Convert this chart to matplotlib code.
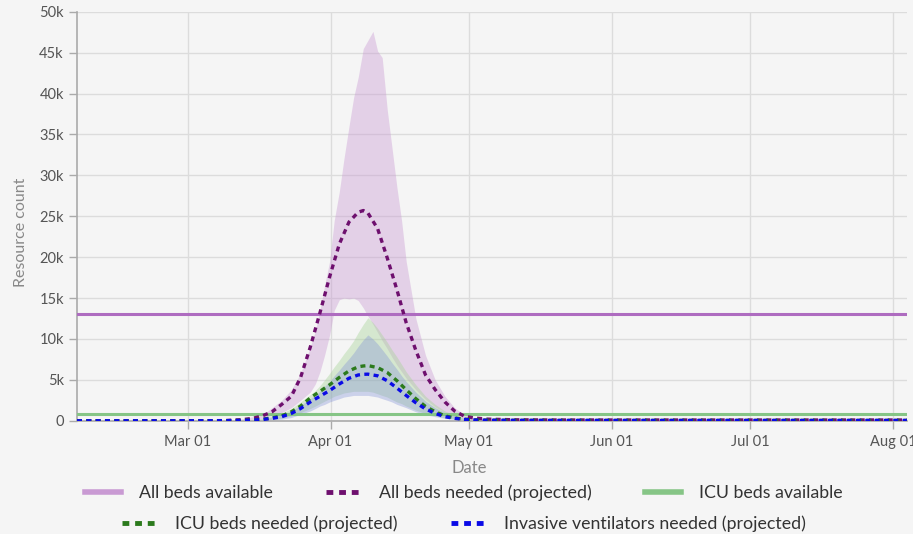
import pandas as pd
import matplotlib.pyplot as plt
import matplotlib.dates as mdates
from matplotlib.lines import Line2D
from matplotlib.ticker import FuncFormatter, MultipleLocator

plt.rcParams['font.family'] = ['Lato', 'DejaVu Sans']

# days relative to Apr 01 2020
curve_days = [-55, -32.5, -23.1, -19, -16.9, -14.8, -12.7, -10.6, -8.5, -6.5, -4.4, -2.3, -0.2, 1.9,
              4, 6, 7.1, 8.1, 10.2, 12.3, 14.4, 16.4, 18.5, 20.6, 22.7, 24.8, 26.9, 28.9, 31, 34.1,
              40, 50, 61, 91, 125]
all_beds_needed = [0, 0, 20, 150, 300, 600, 1100, 2000, 3000, 5300, 9000, 13200, 17600, 21600, 24300,
                   25500, 25700, 25400, 23500, 19900, 16000, 12000, 8600, 5600, 3800, 2300, 1200, 600,
                   350, 200, 120, 100, 100, 100, 100]
icu_needed = [0, 0, 10, 50, 100, 200, 350, 600, 1100, 1800, 2800, 3600, 4400, 5300, 6100, 6600, 6700,
              6750, 6500, 5900, 4900, 3800, 2700, 1750, 1100, 600, 350, 200, 120, 80, 60, 50, 50, 50, 50]
vent_needed = [0, 0, 10, 40, 80, 150, 300, 500, 900, 1500, 2300, 3000, 3700, 4500, 5200, 5600, 5680,
               5700, 5500, 4900, 4000, 3100, 2200, 1450, 900, 500, 300, 170, 100, 60, 50, 40, 40, 40, 40]

band_days = [-55, -21, -14.8, -10.6, -8.5, -6.5, -4.4, -3.3, -2.3, -1.3, -0.2, 0.8, 1.9, 2.9, 4, 5, 6,
             7.1, 8.1, 9.2, 10.2, 11.2, 12.3, 13.3, 14.4, 15.4, 16.4, 18.5, 20.6, 22.7, 24.8, 26.9,
             28.9, 31, 36.2, 125]
all_beds_upper = [0, 50, 700, 2500, 3800, 5800, 9000, 11000, 13500, 16500, 19500, 24500, 28000, 32000,
                  36000, 39500, 42000, 45500, 46500, 47600, 45200, 44400, 38000, 33500, 28500, 24500,
                  19500, 12500, 8000, 5000, 3000, 1600, 800, 400, 150, 100]
all_beds_lower = [0, 20, 300, 1000, 1600, 2500, 3500, 4500, 6000, 8000, 10500, 13500, 14800, 15000,
                  14900, 15000, 14700, 13800, 12800, 11800, 10800, 9800, 8800, 7800, 6800, 6000, 5200,
                  3800, 2600, 1700, 1000, 500, 300, 150, 80, 50]
icu_upper = [0, 30, 300, 900, 1500, 2300, 3200, 3700, 4300, 5000, 5800, 6600, 7400, 8200, 9000, 9800,
             10800, 11800, 12600, 12000, 11300, 10500, 9600, 8700, 7800, 6900, 6000, 4400, 3000, 2000,
             1200, 700, 400, 200, 80, 50]
icu_lower = [0, 10, 50, 300, 600, 1000, 1500, 1800, 2100, 2400, 2700, 3000, 3200, 3400, 3500, 3600,
             3600, 3600, 3600, 3500, 3300, 3100, 2900, 2600, 2300, 2100, 1800, 1300, 900, 600, 350, 200,
             120, 60, 40, 30]
vent_upper = [0, 20, 200, 700, 1200, 1900, 2700, 3100, 3600, 4200, 4800, 5500, 6200, 6900, 7600, 8300,
              9100, 9900, 10500, 10000, 9400, 8700, 7900, 7100, 6300, 5500, 4800, 3500, 2400, 1600,
              1000, 550, 300, 150, 60, 40]
vent_lower = [0, 5, 30, 200, 400, 800, 1200, 1500, 1800, 2000, 2300, 2500, 2700, 2900, 3000, 3100,
              3100, 3100, 3100, 3000, 2900, 2700, 2500, 2300, 2000, 1800, 1600, 1100, 750, 500, 300,
              170, 100, 50, 30, 20]

all_beds_available = 13100
icu_beds_available = 800

base = pd.Timestamp('2020-04-01')
curve_dates = base + pd.to_timedelta(curve_days, unit='D')
band_dates = base + pd.to_timedelta(band_days, unit='D')

purple_fill = '#c99ad3'
purple_line = '#ae6cc0'
purple_dot = '#6e0f6e'
green_fill = '#a6d496'
green_line = '#86c586'
green_dot = '#2b7a1c'
blue_fill = '#7f8fd6'
blue_dot = '#0a0ae6'

fig = plt.figure(figsize=(9.13, 5.34), dpi=100, facecolor='#f5f5f5')
ax = fig.add_axes([0.0843, 0.212, 0.909, 0.766])
ax.set_facecolor('#f5f5f5')

dot = dict(linestyle=(0, (1.5, 1.3)), linewidth=2.4, dash_capstyle='butt')

ax.fill_between(band_dates, all_beds_lower, all_beds_upper, color=purple_fill, alpha=0.4, lw=0)
ax.fill_between(band_dates, icu_lower, icu_upper, color=green_fill, alpha=0.4, lw=0)
ax.fill_between(band_dates, vent_lower, vent_upper, color=blue_fill, alpha=0.35, lw=0)

ax.axhline(all_beds_available, color=purple_line, lw=2.2, zorder=3)
ax.axhline(icu_beds_available, color=green_line, lw=2.2, zorder=3)

ax.plot(curve_dates, all_beds_needed, color=purple_dot, zorder=4, **dot)
ax.plot(curve_dates, icu_needed, color=green_dot, zorder=4, **dot)
ax.plot(curve_dates, vent_needed, color=blue_dot, zorder=5, **dot)

ax.set_xlim(pd.Timestamp('2020-02-06'), pd.Timestamp('2020-08-04'))
ax.set_ylim(0, 50000)
ax.yaxis.set_major_locator(MultipleLocator(5000))
ax.yaxis.set_major_formatter(FuncFormatter(lambda v, p: '0' if v == 0 else f'{int(v/1000)}k'))
ax.xaxis.set_major_locator(mdates.MonthLocator(bymonthday=1))
ax.xaxis.set_major_formatter(mdates.DateFormatter('%b %d'))

ax.grid(True, color='#dcdcdc', lw=1)
ax.set_axisbelow(True)
for s in ['top', 'right']:
    ax.spines[s].set_visible(False)
for s in ['left', 'bottom']:
    ax.spines[s].set_color('#aaaaaa')
    ax.spines[s].set_linewidth(1.2)
ax.tick_params(colors='#aaaaaa', labelcolor='#555555', labelsize=10.5, length=6, width=1)
ax.tick_params(axis='x', pad=4)

ax.set_xlabel('Date', color='#888888', fontsize=12, labelpad=8, x=0.473)
ax.set_ylabel('Resource count', color='#888888', fontsize=11.5, labelpad=8, y=0.462)

h1 = [Line2D([], [], color=purple_fill, lw=4),
      Line2D([], [], color=purple_dot, lw=3.5, linestyle=(0, (1.4, 1.2))),
      Line2D([], [], color=green_line, lw=4)]
l1 = ['All beds available', 'All beds needed (projected)', 'ICU beds available']
h2 = [Line2D([], [], color=green_dot, lw=3.5, linestyle=(0, (1.4, 1.2))),
      Line2D([], [], color=blue_dot, lw=3.5, linestyle=(0, (1.4, 1.2)))]
l2 = ['ICU beds needed (projected)', 'Invasive ventilators needed (projected)']

leg_kw = dict(frameon=False, fontsize=12.8, handlelength=2.0, handletextpad=1.0,
              columnspacing=3.0, labelcolor='#333333')
fig.legend(h1, l1, loc='center', bbox_to_anchor=(0.508, 0.077), ncol=3, **leg_kw)
fig.legend(h2, l2, loc='center', bbox_to_anchor=(0.508, 0.019), ncol=2, **leg_kw)

fig.savefig('out.png', dpi=100, facecolor=fig.get_facecolor())
